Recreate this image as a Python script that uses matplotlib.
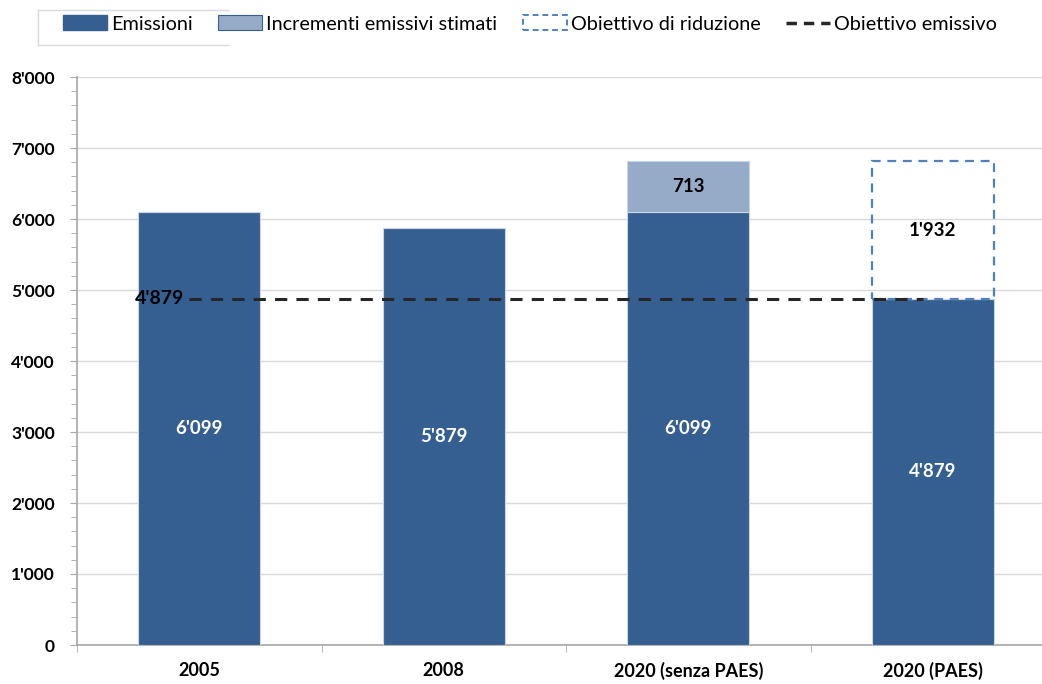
import numpy as np
import matplotlib
matplotlib.use("Agg")
import matplotlib.pyplot as plt
from matplotlib.patches import Patch
from matplotlib.lines import Line2D
from matplotlib.ticker import FuncFormatter, MultipleLocator

plt.rcParams['font.family'] = ['Lato', 'DejaVu Sans']

categorie = ['2005', '2008', '2020 (senza PAES)', '2020 (PAES)']
emissioni = [6099, 5879, 6099, 4879]
incrementi = [0, 0, 713, 0]
riduzione = [0, 0, 0, 1932]
obiettivo = 4879

col_emis = '#365F91'
col_incr = '#95ABC8'
col_rid = '#4F81BD'


def fmt(v):
    return f"{int(round(v)):,}".replace(',', "'")


W, H = 1042, 684
fig = plt.figure(figsize=(W / 100, H / 100), dpi=100)
ax = fig.add_axes([77 / W, 1 - 645 / H, (1055 - 77) / W, (645 - 77) / H])

x = np.arange(len(categorie))
bw = 0.5
em = np.array(emissioni)
inc = np.array(incrementi)
rid = np.array(riduzione)

ax.bar(x, em, bw, color=col_emis, edgecolor='#C9D6E6', linewidth=0.8, zorder=3)
ax.bar(x, inc, bw, bottom=em, color=col_incr, edgecolor='#C9D6E6', linewidth=0.8, zorder=3)
mask = rid > 0
ax.bar(x[mask], rid[mask], bw, bottom=em[mask], facecolor='none', edgecolor=col_rid,
       linewidth=1.6, linestyle=(0, (4, 3)), zorder=3)

ax.plot([-0.04, 2.96], [obiettivo, obiettivo], color='#262626', linewidth=2.2,
        linestyle=(0, (4, 3)), zorder=4)
ax.text(-0.06, obiettivo, fmt(obiettivo), ha='right', va='center', fontsize=14,
        fontweight='bold', color='black', zorder=5)

for i in x:
    ax.text(i, em[i] / 2, fmt(em[i]), ha='center', va='center', color='white',
            fontsize=13.5, fontweight='bold', zorder=5)
    if inc[i] > 0:
        ax.text(i, em[i] + inc[i] / 2, fmt(inc[i]), ha='center', va='center',
                color='black', fontsize=13.5, fontweight='bold', zorder=5)
    if rid[i] > 0:
        ax.text(i, em[i] + rid[i] / 2, fmt(rid[i]), ha='center', va='center',
                color='black', fontsize=13.5, fontweight='bold', zorder=5)

ax.set_xlim(-0.5, 3.5)
ax.set_ylim(0, 8000)
ax.yaxis.set_major_locator(MultipleLocator(1000))
ax.yaxis.set_minor_locator(MultipleLocator(200))
ax.yaxis.set_major_formatter(FuncFormatter(lambda v, p: fmt(v)))
ax.grid(axis='y', which='major', color='#D9D9D9', linewidth=1, zorder=0)
ax.set_axisbelow(True)

ax.set_xticks(x)
ax.set_xticklabels(categorie)
ax.set_xticks(np.arange(-0.5, 4.0, 1.0), minor=True)
ax.tick_params(axis='x', which='major', length=0, pad=12, labelsize=13)
ax.tick_params(axis='x', which='minor', length=5, color='#A6A6A6', direction='out')
ax.tick_params(axis='y', which='major', length=5, color='#A6A6A6', pad=11, labelsize=12.5)
ax.tick_params(axis='y', which='minor', length=4, color='#A6A6A6')
for lab in ax.get_xticklabels() + ax.get_yticklabels():
    lab.set_fontweight('bold')

for s in ['top', 'right']:
    ax.spines[s].set_visible(False)
for s in ['left', 'bottom']:
    ax.spines[s].set_color('#A6A6A6')
    ax.spines[s].set_linewidth(1.2)

handles = [
    Patch(facecolor=col_emis, edgecolor=col_emis, label='Emissioni'),
    Patch(facecolor=col_incr, edgecolor=col_emis, linewidth=0.8, label='Incrementi emissivi stimati'),
    Patch(facecolor='none', edgecolor=col_rid, linestyle=(0, (3, 2)), linewidth=1.4,
          label='Obiettivo di riduzione'),
    Line2D([0], [0], color='#262626', linewidth=2.5, linestyle=(0, (3, 2)),
           label='Obiettivo emissivo'),
]
fig.legend(handles=handles, loc='center left', bbox_to_anchor=(63 / W, 1 - 24 / H),
           ncol=4, frameon=False, fontsize=14.3, handlelength=2.2, handleheight=0.8,
           handletextpad=0.2, columnspacing=1.3, borderaxespad=0, borderpad=0)

# partial legend frame
fc = '#D9D9D9'
fig.add_artist(Line2D([38 / W, 228 / W], [1 - 10 / H, 1 - 10 / H], color=fc, lw=1, transform=fig.transFigure))
fig.add_artist(Line2D([38 / W, 228 / W], [1 - 45 / H, 1 - 45 / H], color=fc, lw=1, transform=fig.transFigure))
fig.add_artist(Line2D([38 / W, 38 / W], [1 - 10 / H, 1 - 45 / H], color=fc, lw=1, transform=fig.transFigure))

fig.savefig('out.png', dpi=100)
